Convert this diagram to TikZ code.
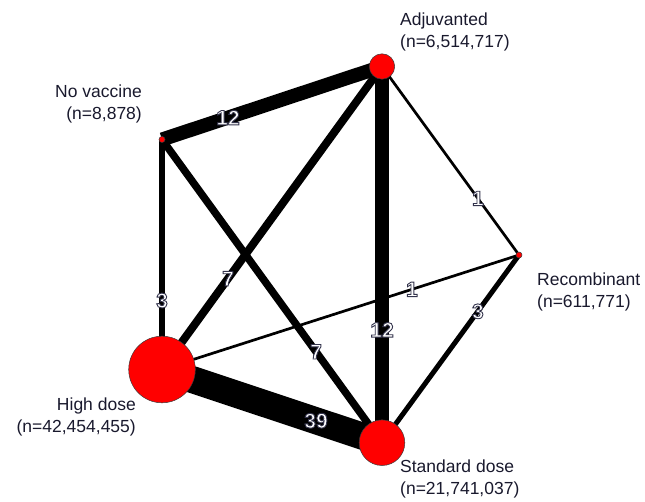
\documentclass[tikz,border=0pt]{standalone}
\usepackage{fontspec}
\setmainfont{Liberation Sans}
\usetikzlibrary{calc,backgrounds}
\definecolor{txt}{RGB}{25,25,45}
\definecolor{circb}{RGB}{60,60,60}
\tikzset{
  trt/.style={circle,fill=red,draw=circb,line width=0.5pt,inner sep=0pt},
  nlab/.style={text=txt,font=\fontsize{17.5}{22}\selectfont,inner sep=0pt},
  elab/.style={font=\fontsize{21}{21}\selectfont\bfseries,inner sep=0pt,text=white},
  edg/.style={draw=black,line cap=butt}
}
\newcommand{\outlined}[1]{\special{pdf:literal direct 2 Tr 0.9 w 0.2 0.2 0.3 RG}#1\special{pdf:literal direct 0 Tr}}
\newcommand{\edgelab}[4]{%
  \node[elab] (#4) at ($(#1)!0.7!(#2)$) {\outlined{#3}};%
}
\begin{document}
\begin{tikzpicture}[x=1pt,y=-1pt]
\useasboundingbox (0,0) rectangle (645,502);
% treatment nodes
\node[trt,minimum size=25.4pt] (adj) at (382,66.5) {};
\node[trt,minimum size=6pt] (nov) at (162,139.5) {};
\node[trt,minimum size=6pt] (rec) at (519,255) {};
\node[trt,minimum size=66.6pt] (hig) at (162,369.5) {};
\node[trt,minimum size=45.6pt] (std) at (382,442.7) {};
% edges
\begin{pgfonlayer}{background}
\draw[edg,line width=14pt] (adj.center) -- (nov.center);
\draw[edg,line width=14pt] (adj.center) -- (std.center);
\draw[edg,line width=8pt] (adj.center) -- (hig.center);
\draw[edg,line width=2.7pt] (adj.center) -- (rec.center);
\draw[edg,line width=5.5pt] (nov.center) -- (hig.center);
\draw[edg,line width=7.5pt] (nov.center) -- (std.center);
\draw[edg,line width=27pt] (hig.center) -- (std.center);
\draw[edg,line width=2.7pt] (hig.center) -- (rec.center);
\draw[edg,line width=5pt] (std.center) -- (rec.center);
\end{pgfonlayer}
% node labels
\node[nlab,align=left,anchor=west] (ladj) at (400,32) {Adjuvanted\\(n=6,514,717)};
\node[nlab,align=right,anchor=east] (lnov) at (142,104) {No vaccine\\(n=8,878)};
\node[nlab,align=right,anchor=east] (lhig) at (136,416.5) {High dose\\(n=42,454,455)};
\node[nlab,align=left,anchor=west] (lstd) at (400,479) {Standard dose\\(n=21,741,037)};
\node[nlab,align=left,anchor=west] (lrec) at (537,292) {Recombinant\\(n=611,771)};
% edge labels
\edgelab{adj.center}{nov.center}{12}{e1}
\edgelab{adj.center}{std.center}{12}{e2}
\edgelab{adj.center}{hig.center}{7}{e3}
\edgelab{adj.center}{rec.center}{1}{e4}
\edgelab{nov.center}{hig.center}{3}{e5}
\edgelab{nov.center}{std.center}{7}{e6}
\edgelab{hig.center}{std.center}{39}{e7}
\edgelab{hig.center}{rec.center}{1}{e8}
\edgelab{std.center}{rec.center}{3}{e9}
\end{tikzpicture}
\end{document}
